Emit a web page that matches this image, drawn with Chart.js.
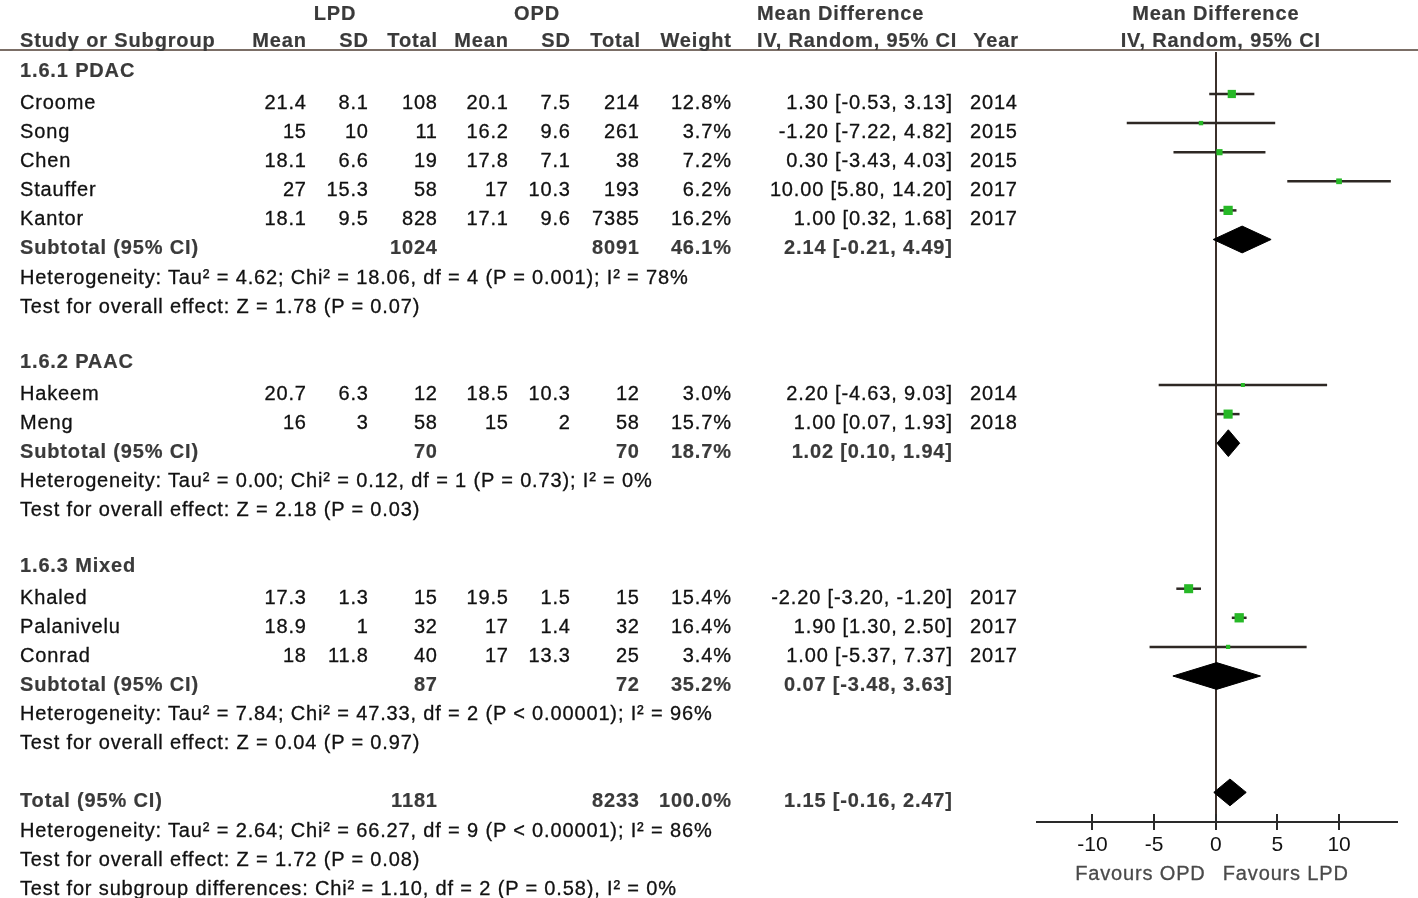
<!DOCTYPE html>
<html>
<head>
<meta charset="utf-8">
<script src="https://cdn.jsdelivr.net/npm/chart.js@4.4.0/dist/chart.umd.min.js"></script>
<style>
  body { margin: 0; background: #fff; }
  #wrap { position: relative; width: 1418px; height: 898px; overflow: hidden; font-family: "Liberation Sans", Arial, sans-serif; }
  #forest { position: absolute; left: 0; top: 0; }
  .t { position: absolute; font-size: 20px; line-height: 20px; white-space: nowrap; color: #111;
       letter-spacing: 0.85px; -webkit-text-stroke: 0.3px currentColor; }
  .r { margin-right: -0.85px; }
  .b { font-weight: bold; color: #3a3a3a; -webkit-text-stroke: 0.2px currentColor; }
  .g { color: #4a4a4a; }
  #rule { position: absolute; left: 0; top: 49px; width: 1418px; height: 2px; background: #7b6e66; }
</style>
</head>
<body>
<div id="wrap">
  <canvas id="forest" width="1418" height="898"></canvas>
  <div id="rule"></div>
</div>
<script>
// studies
const studies = ['Croome', 'Song', 'Chen', 'Stauffer', 'Kantor', 'Hakeem', 'Meng', 'Khaled', 'Palanivelu', 'Conrad'];
const studyRows = [0, 1, 2, 3, 4, 10, 11, 17, 18, 19];
const lpdMean = [21.4, 15, 18.1, 27, 18.1, 20.7, 16, 17.3, 18.9, 18];
const lpdSD = [8.1, 10, 6.6, 15.3, 9.5, 6.3, 3, 1.3, 1, 11.8];
const lpdTotal = [108, 11, 19, 58, 828, 12, 58, 15, 32, 40];
const opdMean = [20.1, 16.2, 17.8, 17, 17.1, 18.5, 15, 19.5, 17, 17];
const opdSD = [7.5, 9.6, 7.1, 10.3, 9.6, 10.3, 2, 1.5, 1.4, 13.3];
const opdTotal = [214, 261, 38, 193, 7385, 12, 58, 15, 32, 25];
const weights = [12.8, 3.7, 7.2, 6.2, 16.2, 3.0, 15.7, 15.4, 16.4, 3.4];
const md = [1.30, -1.20, 0.30, 10.00, 1.00, 2.20, 1.00, -2.20, 1.90, 1.00];
const ciLow = [-0.53, -7.22, -3.43, 5.80, 0.32, -4.63, 0.07, -3.20, 1.30, -5.37];
const ciHigh = [3.13, 4.82, 4.03, 14.20, 1.68, 9.03, 1.93, -1.20, 2.50, 7.37];
const years = [2014, 2015, 2015, 2017, 2017, 2014, 2018, 2017, 2017, 2017];

// subtotals and total
const summaryLabels = ['Subtotal (95% CI)', 'Subtotal (95% CI)', 'Subtotal (95% CI)', 'Total (95% CI)'];
const summaryRows = [5, 12, 20, 24];
const summaryLpdTotal = [1024, 70, 87, 1181];
const summaryOpdTotal = [8091, 70, 72, 8233];
const summaryWeight = [46.1, 18.7, 35.2, 100.0];
const summaryMd = [2.14, 1.02, 0.07, 1.15];
const summaryLow = [-0.21, 0.10, -3.48, -0.16];
const summaryHigh = [4.49, 1.94, 3.63, 2.47];

const groupNames = ['1.6.1 PDAC', '1.6.2 PAAC', '1.6.3 Mixed'];
const groupRows = [-1.1, 8.9, 15.9];

const notes = [
    'Heterogeneity: Tau\u00b2 = 4.62; Chi\u00b2 = 18.06, df = 4 (P = 0.001); I\u00b2 = 78%',
    'Test for overall effect: Z = 1.78 (P = 0.07)',
    'Heterogeneity: Tau\u00b2 = 0.00; Chi\u00b2 = 0.12, df = 1 (P = 0.73); I\u00b2 = 0%',
    'Test for overall effect: Z = 2.18 (P = 0.03)',
    'Heterogeneity: Tau\u00b2 = 7.84; Chi\u00b2 = 47.33, df = 2 (P < 0.00001); I\u00b2 = 96%',
    'Test for overall effect: Z = 0.04 (P = 0.97)',
    'Heterogeneity: Tau\u00b2 = 2.64; Chi\u00b2 = 66.27, df = 9 (P < 0.00001); I\u00b2 = 86%',
    'Test for overall effect: Z = 1.72 (P = 0.08)',
    'Test for subgroup differences: Chi\u00b2 = 1.10, df = 2 (P = 0.58), I\u00b2 = 0%'
];
const noteRows = [6, 7, 13, 14, 21, 22, 25, 26, 27];

const xTicks = [-10, -5, 0, 5, 10];
const axisLabels = ['Favours OPD', 'Favours LPD'];

const DIAMOND_H = 0.46;
const GREEN = '#27b827';

function ciText(m, lo, hi) {
    return m.toFixed(2) + ' [' + lo.toFixed(2) + ', ' + hi.toFixed(2) + ']';
}

let datasets = [];

datasets.push({
    data: studies.map((s, i) => ({ x: md[i], y: studyRows[i] })),
    pointStyle: 'rect',
    pointRadius: weights.map(w => 2.3 * Math.sqrt(w) / Math.SQRT2),
    backgroundColor: GREEN,
    borderWidth: 0,
    order: 0
});

summaryRows.forEach(function (r, i) {
    datasets.push({
        data: [
            { x: summaryLow[i], y: r },
            { x: summaryMd[i], y: r - DIAMOND_H },
            { x: summaryHigh[i], y: r },
            { x: summaryMd[i], y: r + DIAMOND_H },
            { x: summaryLow[i], y: r }
        ],
        showLine: true,
        fill: 'shape',
        backgroundColor: '#000',
        borderColor: '#000',
        borderWidth: 1,
        pointRadius: 0,
        order: 1
    });
});

studies.forEach(function (s, i) {
    datasets.push({
        data: [{ x: ciLow[i], y: studyRows[i] }, { x: ciHigh[i], y: studyRows[i] }],
        showLine: true,
        borderColor: '#2e2824',
        borderWidth: 2.5,
        pointRadius: 0,
        order: 2
    });
});

// tick marks cross the axis line in the original
const tickCross = {
    id: 'tickCross',
    afterDraw: function (chart) {
        let s = chart.scales.x;
        let ctx = chart.ctx;
        ctx.save();
        ctx.strokeStyle = '#2a2a2a';
        ctx.lineWidth = 2;
        s.ticks.forEach(function (t) {
            let px = Math.round(s.getPixelForValue(t.value));
            ctx.beginPath();
            ctx.moveTo(px, s.top - 8);
            ctx.lineTo(px, s.top);
            ctx.stroke();
        });
        ctx.restore();
    }
};

let chart = new Chart(document.getElementById('forest'), {
    type: 'scatter',
    data: { datasets: datasets },
    plugins: [tickCross],
    options: {
        responsive: false,
        animation: false,
        events: [],
        layout: { padding: { left: 1037, right: 21, top: 52, bottom: 0 } },
        plugins: { legend: { display: false }, tooltip: { enabled: false } },
        scales: {
            x: {
                type: 'linear',
                min: -14.5,
                max: 14.7,
                afterBuildTicks: function (s) { s.ticks = xTicks.map(v => ({ value: v })); },
                afterFit: function (s) { s.height = 76; },
                grid: {
                    color: c => (c.tick && c.tick.value === 0) ? '#3b302b' : 'rgba(0,0,0,0)',
                    lineWidth: 2,
                    tickLength: 8,
                    tickColor: '#2a2a2a',
                    tickWidth: 2
                },
                border: { display: true, color: '#2a2a2a', width: 2 },
                ticks: {
                    autoSkip: false,
                    maxRotation: 0,
                    padding: 3,
                    color: '#111',
                    font: { family: '"Liberation Sans", Arial, sans-serif', size: 21 }
                }
            },
            y: {
                type: 'linear',
                reverse: true,
                min: -1.443,
                max: 25.017,
                display: false
            }
        }
    }
});

// table text, placed on the same row scale as the marks
let wrap = document.getElementById('wrap');
let ys = chart.scales.y;
let xs = chart.scales.x;

function addText(str, x, row, align, cls) {
    let d = document.createElement('div');
    d.className = 't' + (cls ? ' ' + cls : '');
    d.textContent = str;
    d.style.top = (ys.getPixelForValue(row) - 2) + 'px';
    if (align === 'right') {
        d.classList.add('r');
        d.style.right = (1418 - x) + 'px';
    } else if (align === 'center') {
        d.style.left = x + 'px';
        d.style.transform = 'translateX(-50%)';
    } else {
        d.style.left = x + 'px';
    }
    wrap.appendChild(d);
}

let zeroPx = xs.getPixelForValue(0);

// headers
addText('LPD', 335, -3.06, 'center', 'b');
addText('OPD', 537, -3.06, 'center', 'b');
addText('Mean Difference', 757, -3.06, 'left', 'b');
addText('Mean Difference', zeroPx, -3.06, 'center', 'b');
addText('Study or Subgroup', 20, -2.13, 'left', 'b');
addText('Mean', 306, -2.13, 'right', 'b');
addText('SD', 368, -2.13, 'right', 'b');
addText('Total', 437, -2.13, 'right', 'b');
addText('Mean', 508, -2.13, 'right', 'b');
addText('SD', 570, -2.13, 'right', 'b');
addText('Total', 640, -2.13, 'right', 'b');
addText('Weight', 731, -2.13, 'right', 'b');
addText('IV, Random, 95% CI', 757, -2.13, 'left', 'b');
addText('Year', 1018, -2.13, 'right', 'b');
addText('IV, Random, 95% CI', zeroPx + 5, -2.13, 'center', 'b');

groupNames.forEach(function (g, i) {
    addText(g, 20, groupRows[i], 'left', 'b');
});

studies.forEach(function (s, i) {
    let r = studyRows[i];
    addText(s, 20, r, 'left');
    addText(String(lpdMean[i]), 306, r, 'right');
    addText(String(lpdSD[i]), 368, r, 'right');
    addText(String(lpdTotal[i]), 437, r, 'right');
    addText(String(opdMean[i]), 508, r, 'right');
    addText(String(opdSD[i]), 570, r, 'right');
    addText(String(opdTotal[i]), 639, r, 'right');
    addText(weights[i].toFixed(1) + '%', 731, r, 'right');
    addText(ciText(md[i], ciLow[i], ciHigh[i]), 952, r, 'right');
    addText(String(years[i]), 1017, r, 'right');
});

summaryRows.forEach(function (r, i) {
    addText(summaryLabels[i], 20, r, 'left', 'b');
    addText(String(summaryLpdTotal[i]), 437, r, 'right', 'b');
    addText(String(summaryOpdTotal[i]), 639, r, 'right', 'b');
    addText(summaryWeight[i].toFixed(1) + '%', 731, r, 'right', 'b');
    addText(ciText(summaryMd[i], summaryLow[i], summaryHigh[i]), 952, r, 'right', 'b');
});

notes.forEach(function (n, i) {
    addText(n, 20, noteRows[i], 'left');
});

addText(axisLabels[0], zeroPx - 11, 26.49, 'right', 'g');
addText(axisLabels[1], zeroPx + 7, 26.49, 'left', 'g');
</script>
</body>
</html>
